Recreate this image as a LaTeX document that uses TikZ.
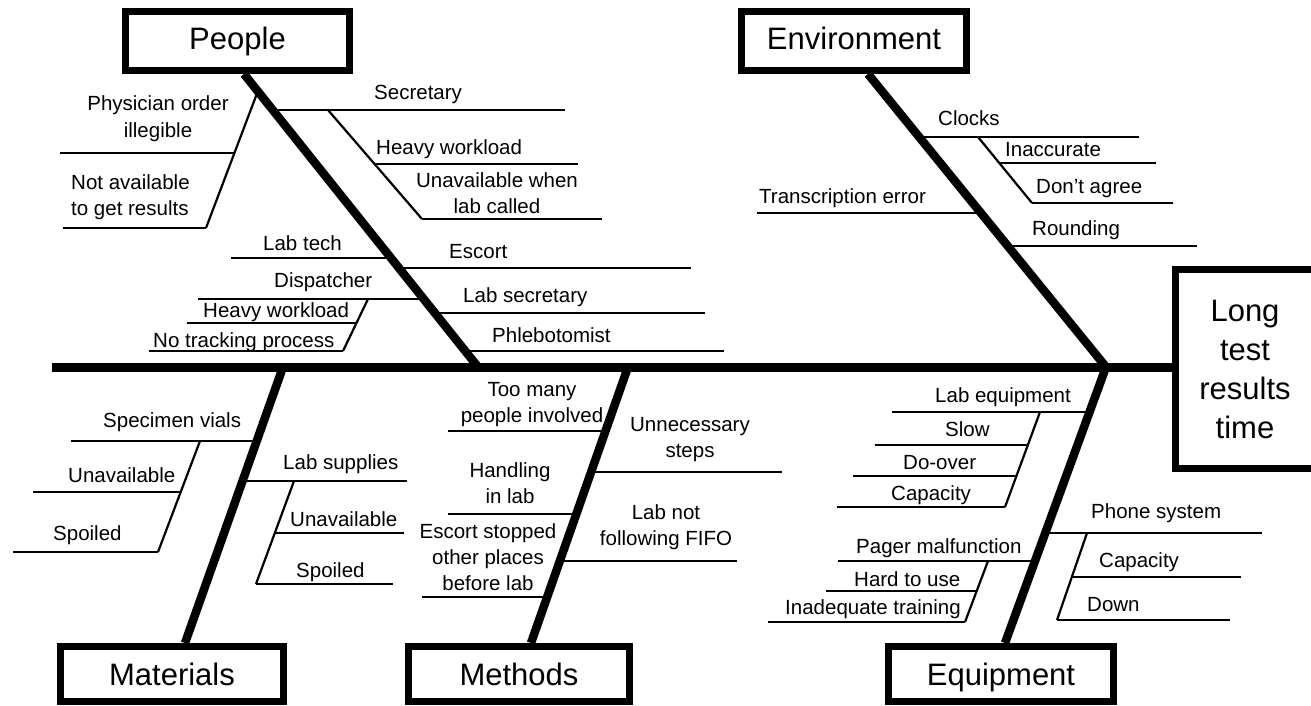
\documentclass[tikz,border=0pt]{standalone}
\usepackage{fontspec}
\setmainfont{Liberation Sans}
\begin{document}
\begin{tikzpicture}[x=1pt,y=-1pt,
  cat/.style={draw,line width=7pt,fill=white,inner sep=0pt,minimum height=59pt,text height=23pt,text depth=6pt,font=\fontsize{31}{38}\selectfont},
  catlow/.style={cat,minimum height=55pt,text depth=1pt},
  lbl/.style={inner sep=0pt,font=\fontsize{20.5}{26}\selectfont},
  bone/.style={line width=8.5pt},
  sub/.style={line width=2.2pt}]
\useasboundingbox (0,0) rectangle (1311,706);
% joints
\coordinate (tail) at (52,367);
\coordinate (head) at (1175,367);
\coordinate (pj) at (478,367);
\coordinate (ej) at (1106,367);
\coordinate (mj) at (283,367);
\coordinate (tj) at (628,367);
% category boxes
\node[cat,minimum width=224pt] (people) at (237.5,41) {People};
\node[cat,minimum width=225pt] (environment) at (854,41) {Environment};
\node[catlow,minimum width=223pt] (materials) at (172,674) {Materials};
\node[catlow,minimum width=221pt] (methods) at (519,674) {Methods};
\node[catlow,minimum width=225pt] (equipment) at (1001,674) {Equipment};
% effect box
\draw[line width=6.5pt] (1330,269.5) -- (1175.5,269.5) -- (1175.5,468.5) -- (1330,468.5);
\node[inner sep=0pt,align=center,font=\fontsize{31}{39}\selectfont] (effect) at (1245,369) {Long\\test\\results\\time};
% spine and bones
\draw[line width=9pt] (tail) -- (head);
\draw[bone] ([xshift=6.5pt]people.south) -- (pj);
\draw[bone] ([xshift=14pt]environment.south) -- (ej);
\draw[bone] (mj) -- ([xshift=13pt]materials.north);
\draw[bone] (tj) -- ([xshift=12pt]methods.north);
\draw[bone] (ej) -- ([xshift=4pt]equipment.north);
% ---- People
\draw[sub] (274,110) -- (565,110);
\node[lbl,anchor=base west] (secretary) at (374,100) {Secretary};
\draw[sub] (328,110) -- (422,219);
\draw[sub] (374.6,164) -- (578,164);
\node[lbl,anchor=base west] (heavy1) at (376,154) {Heavy workload};
\draw[sub] (422,219) -- (602,219);
\node[lbl,align=center,anchor=base] (unavail) at (497,213) {Unavailable when\\lab called};
\draw[sub] (258.3,90) -- (206,228);
\draw[sub] (60,153) -- (234.3,153);
\node[lbl,align=center,anchor=base] (physician) at (158,137) {Physician order\\illegible};
\draw[sub] (63,228) -- (206,228);
\node[lbl,align=left,anchor=base west] (notavail) at (71,215) {Not available\\to get results};
\draw[sub] (231,258) -- (391.5,258);
\node[lbl,anchor=base west] (labtech) at (263,250) {Lab tech};
\draw[sub] (399,268) -- (691,268);
\node[lbl,anchor=base west] (escort) at (449,258) {Escort};
\draw[sub] (198,299) -- (424,299);
\node[lbl,anchor=base west] (dispatcher) at (274,287) {Dispatcher};
\draw[sub] (368,299) -- (343,351);
\draw[sub] (187,323) -- (356.5,323);
\node[lbl,anchor=base west] (heavy2) at (203,317) {Heavy workload};
\draw[sub] (149,351) -- (343,351);
\node[lbl,anchor=base west] (notrack) at (153,347) {No tracking process};
\draw[sub] (435,313) -- (705,313);
\node[lbl,anchor=base west] (labsec) at (463,302) {Lab secretary};
\draw[sub] (465,351) -- (724,351);
\node[lbl,anchor=base west] (phleb) at (492,342) {Phlebotomist};
% ---- Environment
\draw[sub] (920.5,137) -- (1139,137);
\node[lbl,anchor=base west] (clocks) at (938,126) {Clocks};
\draw[sub] (978,137) -- (1032,203);
\draw[sub] (999.3,163) -- (1156,163);
\node[lbl,anchor=base west] (inacc) at (1005,157) {Inaccurate};
\draw[sub] (1032,203) -- (1173,203);
\node[lbl,anchor=base west] (dontagree) at (1036,193) {Don’t agree};
\draw[sub] (1008.4,246) -- (1197,246);
\node[lbl,anchor=base west] (rounding) at (1032,235) {Rounding};
\draw[sub] (757,213) -- (981.8,213);
\node[lbl,anchor=base west] (transcr) at (759,203) {Transcription error};
% ---- Materials
\draw[sub] (71,441) -- (256.7,441);
\node[lbl,anchor=base west] (vials) at (103,427) {Specimen vials};
\draw[sub] (200,441) -- (158,552);
\draw[sub] (33,492) -- (180.7,492);
\node[lbl,anchor=base west] (unav1) at (68,482) {Unavailable};
\draw[sub] (13,552) -- (158,552);
\node[lbl,anchor=base west] (spoil1) at (53,540) {Spoiled};
\draw[sub] (242.5,481) -- (407,481);
\node[lbl,anchor=base west] (labsup) at (283,469) {Lab supplies};
\draw[sub] (294,481) -- (256,584);
\draw[sub] (274.8,533) -- (404,533);
\node[lbl,anchor=base west] (unav2) at (290,526) {Unavailable};
\draw[sub] (256,584) -- (393,584);
\node[lbl,anchor=base west] (spoil2) at (296,577) {Spoiled};
% ---- Methods
\draw[sub] (448,431) -- (605.5,431);
\node[lbl,align=center,anchor=base] (toomany) at (532,422) {Too many\\people involved};
\draw[sub] (448,514) -- (576.3,514);
\node[lbl,align=center,anchor=base] (handling) at (510,503) {Handling\\in lab};
\draw[sub] (422,597) -- (547.2,597);
\node[lbl,align=center,anchor=base] (escstop) at (488,590) {Escort stopped\\other places\\before lab};
\draw[sub] (591,472) -- (782,472);
\node[lbl,align=center,anchor=base] (unnec) at (690,457) {Unnecessary\\steps};
\draw[sub] (559.8,561) -- (737,561);
\node[lbl,align=center,anchor=base] (fifo) at (666,545) {Lab not\\following FIFO};
% ---- Equipment
\draw[sub] (892,412) -- (1088.7,412);
\node[lbl,anchor=base west] (labequip) at (935,402) {Lab equipment};
\draw[sub] (1040,412) -- (1005,507);
\draw[sub] (875,445) -- (1027.8,445);
\node[lbl,anchor=base west] (slow) at (945,436) {Slow};
\draw[sub] (853,476) -- (1016.4,476);
\node[lbl,anchor=base west] (doover) at (903,469) {Do-over};
\draw[sub] (837,507) -- (1005,507);
\node[lbl,anchor=base west] (cap1) at (891,500) {Capacity};
\draw[sub] (838,561) -- (1034.7,561);
\node[lbl,anchor=base west] (pager) at (856,553) {Pager malfunction};
\draw[sub] (988,561) -- (965,622);
\draw[sub] (826,591) -- (976.7,591);
\node[lbl,anchor=base west] (hard) at (854,586) {Hard to use};
\draw[sub] (768,622) -- (965,622);
\node[lbl,anchor=base west] (inadeq) at (785,614) {Inadequate training};
\draw[sub] (1044.9,533) -- (1262,533);
\node[lbl,anchor=base west] (phone) at (1091,518) {Phone system};
\draw[sub] (1087,533) -- (1057,620);
\draw[sub] (1071.8,577) -- (1241,577);
\node[lbl,anchor=base west] (cap2) at (1099,567) {Capacity};
\draw[sub] (1057,620) -- (1230,620);
\node[lbl,anchor=base west] (down) at (1087,611) {Down};
\end{tikzpicture}
\end{document}
